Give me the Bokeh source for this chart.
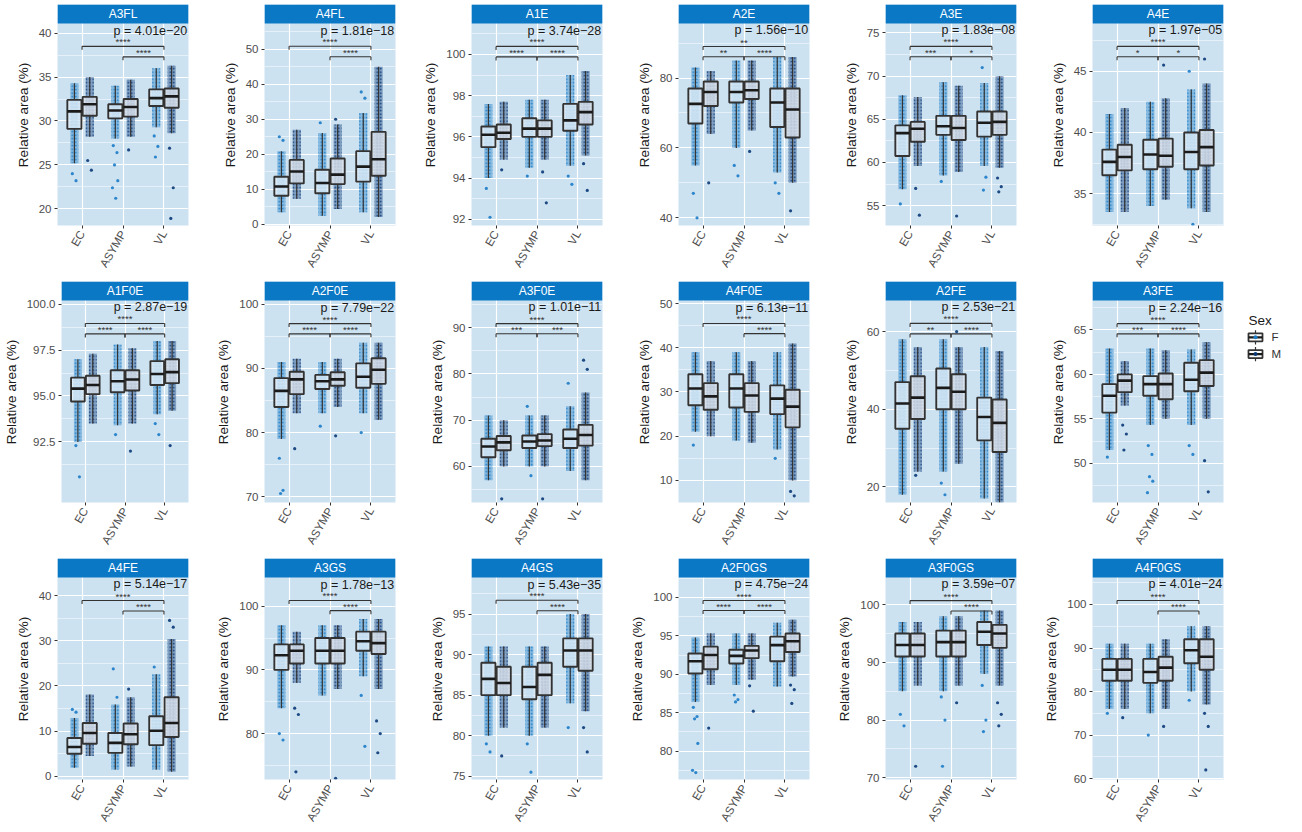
import math
from bokeh.plotting import figure
from bokeh.layouts import row, column
from bokeh.models import Range1d, FixedTicker
from bokeh.core.properties import value
from bokeh.embed import file_html
from bokeh.resources import INLINE

# ---------------------------------------------------------------- data
categories = ["EC", "ASYMP", "VL"]
sexes = ["F", "M"]

panels = ["A3FL", "A4FL", "A1E", "A2E", "A3E", "A4E",
          "A1F0E", "A2F0E", "A3F0E", "A4F0E", "A2FE", "A3FE",
          "A4FE", "A3GS", "A4GS", "A2F0GS", "A3F0GS", "A4F0GS"]

p_values = ["4.01e\u221220", "1.81e\u221218", "3.74e\u221228", "1.56e\u221210", "1.83e\u221208", "1.97e\u221205",
            "2.87e\u221219", "7.79e\u221222", "1.01e\u221211", "6.13e\u221211", "2.53e\u221221", "2.24e\u221216",
            "5.14e\u221217", "1.78e\u221213", "5.43e\u221235", "4.75e\u221224", "3.59e\u221207", "4.01e\u221224"]

y_tick_labels = [
    ["20", "25", "30", "35", "40"], ["0", "10", "20", "30", "40", "50"], ["92", "94", "96", "98", "100"],
    ["40", "60", "80"], ["55", "60", "65", "70", "75"], ["35", "40", "45"],
    ["92.5", "95.0", "97.5", "100.0"], ["70", "80", "90", "100"], ["60", "70", "80", "90"],
    ["10", "20", "30", "40", "50"], ["20", "40", "60"], ["50", "55", "60", "65"],
    ["0", "10", "20", "30", "40"], ["80", "90", "100"], ["75", "80", "85", "90", "95"],
    ["80", "85", "90", "95", "100"], ["70", "80", "90", "100"], ["60", "70", "80", "90", "100"],
]

# visible value range of each panel (below the facet strip)
y_limits = [
    (18.1, 41.1), (-0.3, 57.3), (91.7, 101.5), (37.8, 95.6), (52.7, 76.1), (32.4, 48.9),
    (89.2, 100.2), (69.1, 100.6), (52.2, 95.9), (5.0, 50.7), (16.0, 68.0), (45.6, 68.3),
    (-0.7, 44.0), (72.8, 104.5), (74.6, 99.5), (76.3, 102.6), (69.7, 104.7), (59.8, 106.2),
]

# box statistics, one row per panel; groups: EC-F, EC-M, ASYMP-F, ASYMP-M, VL-F, VL-M
whisker_low = [
    [25.2, 28.2, 28.0, 28.2, 29.3, 28.6], [3.5, 7.3, 2.5, 4.4, 3.5, 2.1], [94.0, 94.9, 94.5, 94.9, 94.6, 95.1],
    [55, 64, 60, 65, 53, 50], [56.9, 59.6, 58.5, 58.9, 59.6, 59.4], [33.5, 33.5, 34.0, 34.5, 33.8, 33.5],
    [92.5, 93.5, 93.4, 93.5, 94.0, 94.2], [79, 83, 83, 84, 83, 82], [57, 60, 60, 60, 59, 57],
    [21, 20, 19, 18.5, 17, 10], [18, 24, 24, 26, 17, 16], [51.5, 56.5, 54.3, 55.0, 54.3, 55.0],
    [1.9, 4.5, 1.5, 2.2, 1.5, 1.0], [84, 88, 86, 87, 89, 87], [80, 81, 80, 81, 84, 83],
    [86.4, 88.6, 88.6, 89.3, 88.4, 89.7], [85, 86, 85, 86, 88, 86], [76, 76, 75, 76, 80, 77],
]
box_q1 = [
    [29.1, 30.6, 30.3, 30.5, 31.7, 31.5], [8.2, 11.7, 8.9, 11.5, 12.2, 13.9], [95.5, 95.9, 96.0, 96.0, 96.3, 96.6],
    [67, 72, 73, 74, 66, 63], [60.75, 62.4, 63.2, 62.6, 63.0, 63.2], [36.5, 36.9, 37.0, 37.2, 37.0, 37.3],
    [94.7, 95.1, 95.2, 95.3, 95.6, 95.7], [84, 86, 86.8, 87.3, 87, 87.6], [62, 63.5, 64, 64.4, 64, 64.5],
    [27, 26, 26.5, 25.5, 25, 22], [35, 37.5, 40, 40, 32, 29], [55.7, 58.0, 57.6, 57.2, 58.1, 58.7],
    [5.0, 7.2, 5.2, 7.1, 6.9, 8.7], [90, 91, 91, 91, 93, 92.5], [85, 85, 84.5, 85, 88.5, 88],
    [90.1, 90.65, 91.4, 92.1, 91.7, 92.9], [91, 91, 91, 91, 93, 92.5], [82.5, 82.5, 82, 82.5, 86.5, 85],
]
box_median = [
    [31.1, 31.9, 31.2, 31.6, 32.6, 32.8], [10.8, 15.1, 11.8, 14.2, 16.5, 18.6], [96.1, 96.2, 96.4, 96.4, 96.8, 97.2],
    [72.6, 76, 76, 76.5, 73, 71], [63.4, 63.9, 64.2, 64.0, 64.6, 64.7], [37.6, 38.0, 38.2, 38.1, 38.4, 38.8],
    [95.4, 95.6, 95.8, 95.9, 96.2, 96.3], [86.5, 88.3, 88, 88.3, 88.7, 89.8], [64.3, 65.2, 65.4, 65.6, 66, 66.8],
    [30.8, 29, 30.8, 29.2, 28.5, 26.7], [41.5, 43, 45.5, 44.5, 38, 36.5], [57.6, 59.3, 58.9, 58.9, 59.4, 60.2],
    [6.5, 9.6, 7.4, 9.3, 10.1, 11.8], [92.3, 93, 93, 93, 94.5, 94.2], [87, 86.5, 86, 87.5, 90.5, 90.5],
    [91.7, 92.5, 92.4, 93.1, 93.8, 94.3], [93, 93, 93.5, 93.5, 95.3, 95], [85, 85, 84.5, 85.5, 89.5, 88],
]
box_q3 = [
    [32.4, 32.75, 31.9, 32.5, 33.6, 33.7], [13.6, 18.4, 15.6, 18.8, 20.9, 26.4], [96.5, 96.6, 96.9, 96.8, 97.6, 97.7],
    [77, 79, 79, 79, 77, 77], [64.3, 64.7, 65.4, 65.4, 65.9, 65.9], [38.6, 39.0, 39.4, 39.5, 40.0, 40.2],
    [96.0, 96.1, 96.4, 96.4, 96.9, 97.0], [88.5, 89.5, 89, 89.4, 90.8, 91.6], [66, 66.6, 66.7, 67, 68, 69],
    [34, 32, 34, 32, 31.5, 30.5], [47, 48.5, 50.5, 49, 43, 42.5], [58.9, 60.0, 59.8, 60.1, 61.3, 61.6],
    [8.5, 11.8, 9.6, 11.7, 13.3, 17.5], [94, 94, 95, 95, 96, 96], [89, 88.5, 88.5, 89, 92, 92],
    [92.7, 93.6, 93.2, 93.7, 94.9, 95.3], [95, 95, 95.5, 95.5, 97, 96.5], [87.5, 87.5, 87.5, 88, 92, 92],
]
whisker_high = [
    [34.3, 35.0, 34.0, 34.7, 36.0, 36.3], [20.9, 27.0, 26.1, 28.5, 31.8, 45.0], [97.6, 97.7, 97.8, 97.8, 99.0, 99.2],
    [83, 82, 85, 85, 86, 86], [67.8, 67.6, 69.3, 68.9, 69.2, 70.0], [41.5, 42.0, 42.5, 42.8, 43.5, 44.0],
    [97.0, 97.3, 97.8, 97.6, 98.0, 98.0], [91, 91.5, 91, 91.5, 94, 94], [71, 70, 71, 71, 73, 76],
    [39, 37, 39, 37, 39, 41], [58, 56, 58, 56, 56, 55], [62.9, 61.5, 62.9, 62.7, 62.8, 63.6],
    [12.9, 18.1, 15.9, 17.5, 22.6, 30.4], [97, 96, 97, 97, 98, 98], [91, 91, 91, 91, 95, 95],
    [94.8, 95.3, 95.3, 95.3, 96.7, 97.1], [97, 97, 98, 98, 99, 99], [91, 91, 91, 92, 95, 95],
]
# individual points beyond the whiskers
outliers = [
    [[24.0, 23.2], [25.5, 24.4], [27.2, 26.4, 25.0, 23.2, 22.4, 21.2], [26.7], [28.3, 27.1, 25.9], [26.9, 22.4, 18.9]],
    [[25.0, 24.0], [], [29.0], [30.0], [37.8, 36.0], []],
    [[93.5, 92.1], [94.4], [94.1], [94.3, 92.8], [94.1, 93.7], [94.7, 93.4]],
    [[47, 40], [50], [55, 52], [59], [50, 47], [42]],
    [[55.2], [57.0, 53.9], [57.8], [53.8], [71.0, 58.3, 56.8], [58.2, 57.2, 56.6]],
    [[], [], [], [45.5], [45.0, 32.5], [46.0]],
    [[92.3, 90.6], [], [92.9], [92.0], [93.5, 92.9], [92.3]],
    [[76, 71, 70.5], [77.5], [81], [79.5], [80], []],
    [[], [53], [73, 58], [53], [78], [83, 81]],
    [[18], [], [], [], [15], [7.5, 6.5]],
    [[], [23], [21, 18], [60], [], []],
    [[50.7], [54.3, 53.3, 51.5], [52, 51, 48.5, 48, 46.7], [], [52, 51], [50.3, 46.8]],
    [[14.8, 14.2], [], [23.8, 17.5], [19.3], [24.2], [34.5, 33]],
    [[80, 79], [84, 83, 74], [], [73], [86, 78], [82, 80, 77]],
    [[79, 78], [77.5], [79, 75.5], [], [81], [81, 78]],
    [[85.7, 84.5, 84.2, 81, 77.5, 77.2], [83], [87.3, 86.7, 86.4], [88.5, 85.2], [], [88.6, 88.0, 86.2]],
    [[81, 79], [72], [84, 80, 72], [83], [86, 80, 78], [83, 81, 79]],
    [[75], [74], [70], [72], [78], [75, 72, 62]],
]

# pairwise comparison brackets (category positions 1..3)
bracket_from = [[1, 2], [1, 2], [1, 1, 2], [1, 1, 2], [1, 1, 2], [1, 1, 2],
                [1, 1, 2], [1, 1, 2], [1, 1, 2], [1, 2], [1, 1, 2], [1, 1, 2],
                [1, 2], [1, 2], [1, 2], [1, 1, 2], [1, 2], [1, 2]]
bracket_to = [[3, 3], [3, 3], [3, 2, 3], [3, 2, 3], [3, 2, 3], [3, 2, 3],
              [3, 2, 3], [3, 2, 3], [3, 2, 3], [3, 3], [3, 2, 3], [3, 2, 3],
              [3, 3], [3, 3], [3, 3], [3, 2, 3], [3, 3], [3, 3]]
bracket_y = [[38.5, 37.3], [50.8, 47.8], [100.39, 99.88, 99.88], [89.0, 86.1, 86.1], [73.45, 72.24, 72.24],
             [47.03, 46.18, 46.18], [98.95, 98.38, 98.38], [97.0, 95.4, 95.4], [90.9, 88.7, 88.7],
             [45.5, 43.2], [62.1, 59.4, 59.4], [65.7, 64.55, 64.55], [38.9, 36.6], [100.9, 99.3],
             [96.7, 95.4], [99.6, 98.3, 98.3], [100.7, 98.9], [100.9, 98.5]]
bracket_text = [["****", "****"], ["****", "****"], ["****", "****", "****"], ["**", "**", "****"],
                ["****", "***", "*"], ["****", "*", "*"], ["****", "****", "****"], ["****", "****", "****"],
                ["****", "***", "***"], ["****", "****"], ["****", "**", "****"], ["****", "***", "****"],
                ["****", "****"], ["****", "****"], ["****", "****"], ["****", "****", "****"],
                ["****", "****"], ["****", "****"]]
p_label_y = [40.3, 55.3, 101.16, 93.6, 75.3, 48.33, 99.82, 99.5, 94.4, 49.1, 66.2, 67.5,
             42.5, 103.4, 98.6, 101.7, 103.5, 104.6]

# ---------------------------------------------------------------- style
FONT = "Liberation Sans"
PANEL_BG = "#cde2f1"
STRIP_BG = "#0b78c6"
SEX_COLORS = {"F": "#1c7cc6", "M": "#0b3a78"}
BOX_LINE = "#333333"

PANEL_W, PANEL_H = 207, 277
BORDER_L, BORDER_R, BORDER_T, BORDER_B = 57, 19, 4, 52
FRAME_H = PANEL_H - BORDER_T - BORDER_B
STRIP_H = 19
PLOT_H = FRAME_H - STRIP_H
DODGE = 0.1875
BOX_HALF = 0.172
OUT_JITTER = [-0.05, 0.04, -0.02, 0.06, -0.07, 0.01, 0.05]


def make_panel(i):
    lo, hi = y_limits[i]
    upp = (hi - lo) / PLOT_H
    top = hi + STRIP_H * upp
    p = figure(width=PANEL_W, height=PANEL_H, x_range=Range1d(0.4, 3.6), y_range=Range1d(lo, top),
               output_backend="svg", toolbar_location=None,
               min_border_left=BORDER_L, min_border_right=BORDER_R,
               min_border_top=BORDER_T, min_border_bottom=BORDER_B)
    p.background_fill_color = PANEL_BG
    p.border_fill_color = "white"
    p.outline_line_color = None

    ticks = [float(t) for t in y_tick_labels[i]]
    step = ticks[1] - ticks[0]
    minors = [ticks[0] - step / 2] + [t + step / 2 for t in ticks]
    p.ygrid.ticker = FixedTicker(ticks=ticks, minor_ticks=minors)
    p.xgrid.ticker = FixedTicker(ticks=[1, 2, 3])
    for g in (p.xgrid, p.ygrid):
        g.grid_line_color = "white"
        g.grid_line_width = 1.1
    p.ygrid.minor_grid_line_color = "white"
    p.ygrid.minor_grid_line_width = 0.5

    p.yaxis.ticker = FixedTicker(ticks=ticks)
    p.yaxis.major_label_overrides = {t: lab for t, lab in zip(ticks, y_tick_labels[i])}
    p.xaxis.ticker = FixedTicker(ticks=[1, 2, 3])
    p.xaxis.major_label_overrides = {k + 1: c for k, c in enumerate(categories)}
    p.xaxis.major_label_orientation = math.pi / 3
    for ax in (p.xaxis, p.yaxis):
        ax.axis_line_color = None
        ax.major_tick_line_color = "#333333"
        ax.major_tick_out = 3
        ax.major_tick_in = 0
        ax.minor_tick_line_color = None
        ax.major_label_text_font = FONT
        ax.major_label_text_font_size = "11.5px"
        ax.major_label_text_color = "#4d4d4d"
        ax.major_label_standoff = 3
    p.yaxis.axis_label = "Relative area (%)"
    p.yaxis.axis_label_text_font = FONT
    p.yaxis.axis_label_text_font_size = "13.5px"
    p.yaxis.axis_label_text_font_style = "normal"
    p.yaxis.axis_label_text_color = "#1a1a1a"
    p.yaxis.axis_label_standoff = 5

    # jittered observations: dotted strips over each group's range, stray points on top
    for ci in range(len(categories)):
        for si, sex in enumerate(sexes):
            g = ci * 2 + si
            cx = ci + 1 + (DODGE if si else -DODGE)
            col = SEX_COLORS[sex]
            p.quad(left=cx - 0.1, right=cx + 0.1, bottom=whisker_low[i][g], top=whisker_high[i][g],
                   fill_color=col, fill_alpha=0.4, line_color=None,
                   hatch_pattern="dot", hatch_color=col, hatch_scale=3.5, hatch_weight=2.6, hatch_alpha=1.0)
            p.quad(left=cx - 0.14, right=cx + 0.14, bottom=box_q1[i][g], top=box_q3[i][g],
                   fill_color=col, fill_alpha=0.45, line_color=None,
                   hatch_pattern="dot", hatch_color=col, hatch_scale=3, hatch_weight=2.6, hatch_alpha=1.0)
            pts = outliers[i][g]
            if pts:
                xs = [cx + OUT_JITTER[k % len(OUT_JITTER)] for k in range(len(pts))]
                p.scatter(x=xs, y=pts, size=3.2, fill_color=col, line_color=None, alpha=0.9)

    # boxplots
    bx, bl, br = [], [], []
    for ci in range(len(categories)):
        for si in range(len(sexes)):
            cx = ci + 1 + (DODGE if si else -DODGE)
            bx.append(cx)
            bl.append(cx - BOX_HALF)
            br.append(cx + BOX_HALF)
    g_lo, g_q1, g_md, g_q3, g_hi = (whisker_low[i], box_q1[i], box_median[i], box_q3[i], whisker_high[i])
    p.segment(x0=bx, y0=g_q3, x1=bx, y1=g_hi, line_color=BOX_LINE, line_width=1.2)
    p.segment(x0=bx, y0=g_lo, x1=bx, y1=g_q1, line_color=BOX_LINE, line_width=1.2)
    p.quad(left=bl, right=br, bottom=g_q1, top=g_q3, fill_color="white", fill_alpha=0.7,
           line_color=BOX_LINE, line_width=1.9)
    p.segment(x0=bl, y0=g_md, x1=br, y1=g_md, line_color="#1a1a1a", line_width=2.6)

    # comparison brackets
    tip = 3.5 * upp
    for a, b, yb, lab in zip(bracket_from[i], bracket_to[i], bracket_y[i], bracket_text[i]):
        p.segment(x0=[a, a, b], y0=[yb, yb, yb], x1=[b, a, b], y1=[yb, yb - tip, yb - tip],
                  line_color="#333333", line_width=1.1)
        p.text(x=[(a + b) / 2], y=[yb], text=[lab], text_align="center", text_baseline="bottom",
               text_font=value(FONT), text_font_size="9.5px", text_color="#333333", y_offset=1)

    p.text(x=[3.57], y=[p_label_y[i]], text=["p = " + p_values[i]], text_align="right",
           text_baseline="middle", text_font=value(FONT), text_font_size="12.5px", text_color="#1a1a1a")

    # facet strip
    p.quad(left=[0.4], right=[3.6], bottom=[hi], top=[top], fill_color=STRIP_BG, line_color=None)
    p.text(x=[2.0], y=[(hi + top) / 2], text=[panels[i]], text_align="center", text_baseline="middle",
           text_font=value(FONT), text_font_size="12px", text_color="white")
    return p


def make_legend(width, height):
    lg = figure(width=width, height=height, x_range=Range1d(0, width), y_range=Range1d(height, 0),
                output_backend="svg", toolbar_location=None, x_axis_type=None, y_axis_type=None,
                min_border=0)
    lg.outline_line_color = None
    lg.grid.visible = False
    lg.text(x=[6], y=[49], text=["Sex"], text_baseline="middle", text_font=value(FONT),
            text_font_size="13.5px", text_color="#1a1a1a")
    for k, sex in enumerate(sexes):
        cy = 70 + 21 * k
        lg.segment(x0=[13, 13], y0=[cy - 9, cy + 5], x1=[13, 13], y1=[cy - 5, cy + 9],
                   line_color=BOX_LINE, line_width=1.2)
        lg.quad(left=[6], right=[20], top=[cy - 5], bottom=[cy + 5], fill_color="white",
                line_color=BOX_LINE, line_width=1.8)
        lg.segment(x0=[6], y0=[cy], x1=[20], y1=[cy], line_color="#1a1a1a", line_width=2.2)
        lg.scatter(x=[13], y=[cy], size=4, fill_color=SEX_COLORS[sex], line_color=None)
        lg.text(x=[29], y=[cy], text=[sex], text_baseline="middle", text_font=value(FONT),
                text_font_size="11.5px", text_color="#333333")
    return lg


figs = [make_panel(i) for i in range(len(panels))]
legend_fig = make_legend(1302 - 6 * PANEL_W, PANEL_H)
layout = column(row(*figs[0:6]), row(*figs[6:12], legend_fig), row(*figs[12:18]))

with open("out.html", "w", encoding="utf-8") as fh:
    fh.write(file_html(layout, INLINE))
